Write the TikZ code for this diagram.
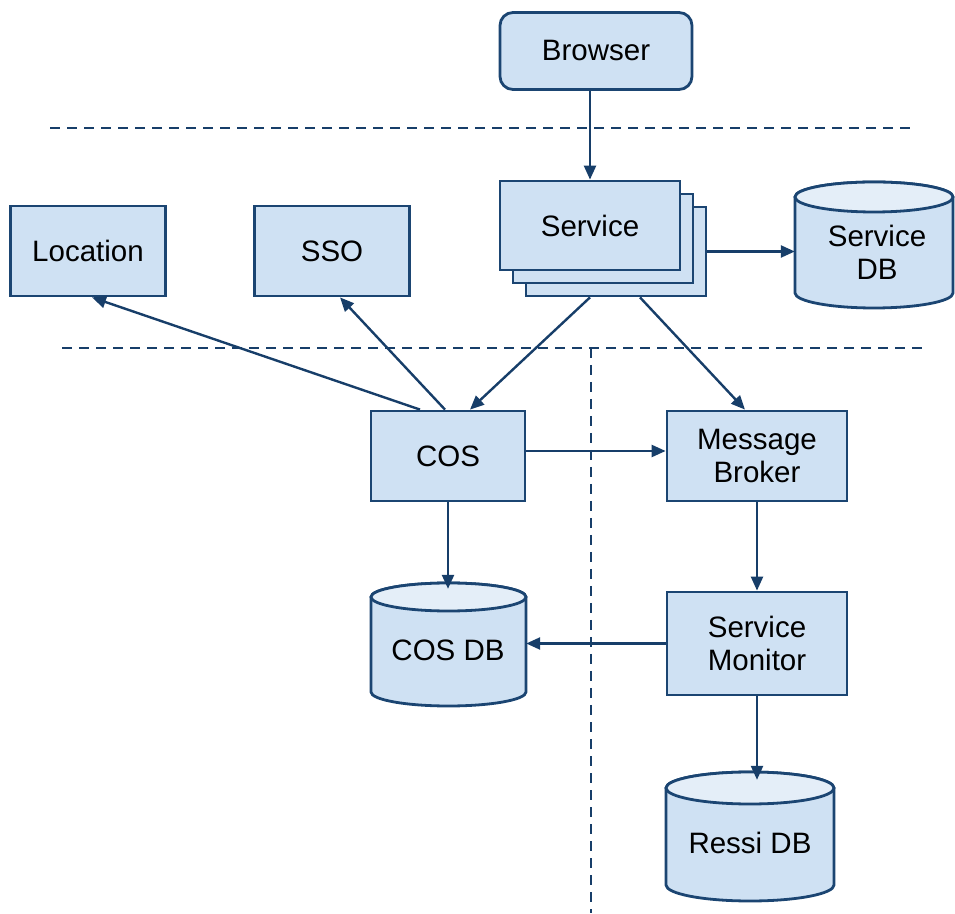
\documentclass[tikz,border=0pt]{standalone}
\usepackage{fontspec}
\setmainfont{Liberation Sans}
\usetikzlibrary{arrows.meta}
\definecolor{boxfill}{HTML}{CFE1F3}
\definecolor{topfill}{HTML}{E4EEF8}
\definecolor{edge}{HTML}{1B4572}
\definecolor{conn}{HTML}{173E69}
\newcommand\drawdb[6]{%
  \path[fill=boxfill,draw=edge,line width=2.8pt] (#2,{#4-#6}) -- (#2,{#5+#6})
    arc[start angle=180,end angle=360,x radius={(#3-#2)/2},y radius=#6]
    -- (#3,{#4-#6}) arc[start angle=0,end angle=180,x radius={(#3-#2)/2},y radius=#6] -- cycle;
  \draw[fill=topfill,draw=edge,line width=2.8pt] ({(#2+#3)/2},{#4-#6}) ellipse[x radius={(#3-#2)/2},y radius=#6];
  \node[inner sep=0,minimum width={#3-#2},minimum height={#4-#5}] (#1) at ({(#2+#3)/2},{(#4+#5)/2}) {};
}
\tikzset{
  box/.style={draw=edge,fill=boxfill,line width=2.8pt,inner sep=0,align=center,
    font=\fontsize{29.5}{33}\selectfont},
  lbl/.style={inner sep=0,align=center,font=\fontsize{29.5}{33}\selectfont},
  conn/.style={draw=conn,line width=2.4pt,-{Triangle[length=14pt,width=12pt]}},
  sep/.style={draw=conn,line width=2.2pt,dash pattern=on 10pt off 7pt},
}
\begin{document}
\begin{tikzpicture}[x=1pt,y=1pt]
\useasboundingbox (0,0) rectangle (955,913);
% separators
\draw[sep] (50,785) -- (910,785);
\draw[sep] (62,565) -- (925,565);
\draw[sep] (591,565) -- (591,0);
% nodes
\node[box,rounded corners=13pt,minimum width=192,minimum height=77] (browser) at (596,862) {Browser};
\node[box,minimum width=180,minimum height=89] (svc3) at (616,661.5) {};
\node[box,minimum width=180,minimum height=89] (svc2) at (603,674.5) {};
\node[box,minimum width=180,minimum height=89] (svc) at (590,687.5) {Service};
\drawdb{svcdb}{795}{953}{731}{605}{15}
\node[lbl] (svcdbt) at (877,661) {Service\\DB};
\node[box,minimum width=155,minimum height=90] (loc) at (88,662) {Location};
\node[box,minimum width=155,minimum height=90] (sso) at (332,662) {SSO};
\node[box,minimum width=154,minimum height=90] (cos) at (448,457) {COS};
\node[box,minimum width=180,minimum height=90] (mb) at (757,457) {Message\\Broker};
\drawdb{cosdb}{371}{526}{330}{207}{14}
\node[lbl] (cosdbt) at (448,263) {COS DB};
\node[box,minimum width=180,minimum height=103] (sm) at (757,269.5) {Service\\Monitor};
\drawdb{ressi}{666}{834}{141}{12}{16}
\node[lbl] (ressit) at (750,70) {Ressi DB};
% connectors
\draw[conn] ([xshift=-6]browser.south) -- (svc.north);
\draw[conn] (svc3.east) -- (svcdb.west|-svc3.east);
\draw[conn] ([xshift=-26]svc3.south) -- ([xshift=22]cos.north);
\draw[conn] ([xshift=24]svc3.south) -- ([xshift=-12]mb.north);
\draw[conn] ([xshift=-28]cos.north) -- ([xshift=4]loc.south);
\draw[conn] ([xshift=-3]cos.north) -- ([xshift=8]sso.south);
\draw[conn] ([yshift=5]cos.east) -- ([yshift=5]mb.west);
\draw[conn] (cos.south) -- ([yshift=-6]cos.south|-cosdb.north);
\draw[conn] (mb.south) -- (sm.north);
\draw[conn] (sm.west) -- (cosdb.east|-sm.west);
\draw[conn] (sm.south) -- ([yshift=-8]sm.south|-ressi.north);
\end{tikzpicture}
\end{document}
